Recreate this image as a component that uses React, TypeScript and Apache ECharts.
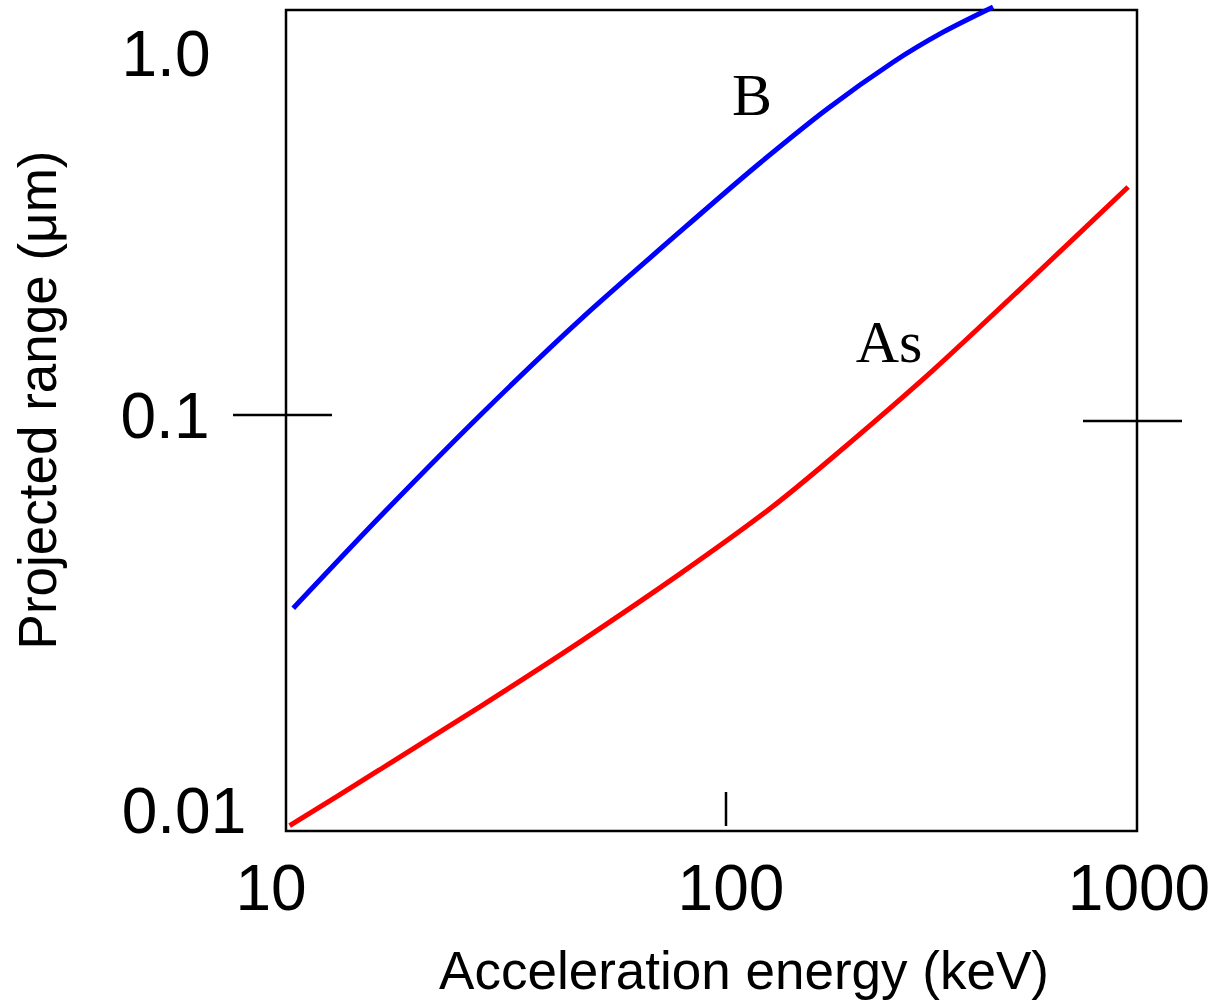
import React, { useEffect, useRef } from "react";
import * as echarts from "echarts";

// Boron (B) projected range vs acceleration energy
const energyB = [10.4, 16.6, 28.6, 49.9, 94, 130, 187, 267, 350, 459];
const rangeB = [0.0349, 0.0582, 0.103, 0.1786, 0.318, 0.424, 0.574, 0.746, 0.883, 1.017];

// Arsenic (As) projected range vs acceleration energy
const energyAs = [10.2, 16.6, 28.6, 49.1, 84.3, 135, 193, 332, 570, 953];
const rangeAs = [0.0103, 0.0141, 0.0201, 0.0289, 0.0423, 0.0602, 0.0815, 0.1327, 0.2237, 0.3705];

const xTickLabels = ["10", "100", "1000"];
const yTickLabels = ["0.01", "0.1", "1.0"];
const seriesNames = ["B", "As"];
const xTitle = "Acceleration energy (keV)";
const yTitle = "Projected range (\u03bcm)";

export default function App() {
  const ref = useRef<HTMLDivElement>(null);

  useEffect(() => {
    document.body.style.margin = "0";
    if (!ref.current) return;
    const chart = echarts.init(ref.current, undefined, { renderer: "svg" });

    const sans = "'Liberation Sans', Arial, sans-serif";
    const serif = "'Liberation Serif', 'Times New Roman', serif";
    const txt = (text: string, x: number, y: number, size: number, family: string, extra: any = {}) => ({
      type: "text",
      x,
      y,
      z: 100,
      ...extra,
      style: {
        text,
        fontSize: size,
        fontFamily: family,
        fill: "#000",
        align: "center",
        verticalAlign: "middle",
        textAlign: "center",
        textVerticalAlign: "middle",
      },
    });
    const seg = (x1: number, y1: number, x2: number, y2: number) => ({
      type: "line",
      z: 100,
      shape: { x1, y1, x2, y2 },
      style: { stroke: "#000", lineWidth: 2.5 },
    });

    chart.setOption({
      animation: false,
      backgroundColor: "#fff",
      grid: {
        left: 286,
        top: 10,
        right: 78,
        bottom: 172,
        show: true,
        borderColor: "#000",
        borderWidth: 2.5,
        backgroundColor: "transparent",
      },
      xAxis: {
        type: "log",
        logBase: 10,
        min: 10,
        max: 1000,
        axisLine: { show: false },
        axisTick: { show: false },
        axisLabel: { show: false },
        splitLine: { show: false },
        minorTick: { show: false },
      },
      yAxis: {
        type: "log",
        logBase: 10,
        min: 0.01,
        max: 1,
        axisLine: { show: false },
        axisTick: { show: false },
        axisLabel: { show: false },
        splitLine: { show: false },
      },
      series: [
        {
          name: seriesNames[0],
          type: "line",
          data: energyB.map((e, i) => [e, rangeB[i]]),
          smooth: 0.25,
          showSymbol: false,
          clip: false,
          lineStyle: { color: "#0000ff", width: 5 },
        },
        {
          name: seriesNames[1],
          type: "line",
          data: energyAs.map((e, i) => [e, rangeAs[i]]),
          smooth: 0.25,
          showSymbol: false,
          clip: false,
          lineStyle: { color: "#ff0000", width: 5 },
        },
      ],
      graphic: [
        // decorative cross ticks
        seg(233, 415, 332, 415),
        seg(1083, 421, 1182, 421),
        seg(726, 792, 726, 826),
        // tick labels
        txt(yTickLabels[2], 166, 54, 64, sans),
        txt(yTickLabels[1], 165, 416, 64, sans),
        txt(yTickLabels[0], 184, 811, 64, sans),
        txt(xTickLabels[0], 271, 888, 64, sans),
        txt(xTickLabels[1], 731, 888, 64, sans),
        txt(xTickLabels[2], 1139, 888, 64, sans),
        // axis titles
        txt(xTitle, 744, 970, 53, sans),
        txt(yTitle, 37, 400, 53, sans, { rotation: Math.PI / 2 }),
        // series labels
        txt(seriesNames[0], 752, 95, 60, serif),
        txt(seriesNames[1], 889, 342, 60, serif),
      ],
    });

    return () => chart.dispose();
  }, []);

  return <div ref={ref} style={{ width: 1215, height: 1003 }} />;
}
